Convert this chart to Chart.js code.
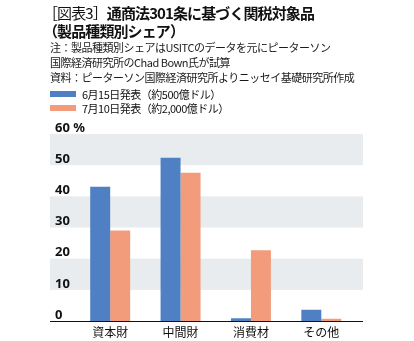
<!DOCTYPE html>
<html lang="ja">
<head>
<meta charset="utf-8">
<script src="https://cdn.jsdelivr.net/npm/chart.js@4/dist/chart.umd.min.js"></script>
<style>
  html, body { margin: 0; padding: 0; background: #fff; }
  #wrap { position: relative; width: 414px; height: 341px; overflow: hidden;
          font-family: "Noto Sans CJK JP", "Noto Sans", sans-serif; color: #111; }
  #chart { position: absolute; left: 0; top: 0; }
  .t { position: absolute; white-space: nowrap; }
  .title { font-size: 15px; line-height: 18px; font-weight: 700; letter-spacing: -0.9px; }
  .title .tag { font-weight: 400; }
  .note { font-size: 11px; line-height: 14px; letter-spacing: -0.5px; color: #1a1a1a; }
  .leg { font-size: 11px; line-height: 14px; letter-spacing: -0.5px; color: #111; }
  .sw { position: absolute; width: 26px; height: 6px; }
</style>
</head>
<body>
<div id="wrap">
  <canvas id="chart" width="414" height="341"></canvas>
  <div class="t title" style="left:43px; top:4px;"><span class="tag">［図表3］</span>通商法301条に基づく関税対象品</div>
  <div class="t title" style="left:43px; top:22px;">（製品種類別シェア）</div>
  <div class="t note" style="left:50px; top:40px;">注：製品種類別シェアはUSITCのデータを元にピーターソン</div>
  <div class="t note" style="left:50px; top:55px;">国際経済研究所のChad Bown氏が試算</div>
  <div class="t note" style="left:50px; top:70px;">資料：ピーターソン国際経済研究所よりニッセイ基礎研究所作成</div>
  <div id="legend"></div>
</div>
<script>
// Product categories and shares (%) of the tariff lists
const categories = ["資本財", "中間財", "消費材", "その他"];
const seriesNames = ["6月15日発表（約500億ドル）", "7月10日発表（約2,000億ドル）"];
const june15Share = [43.1, 52.4, 0.9, 3.6];
const july10Share = [29.0, 47.6, 22.7, 0.7];
const yTicks = [0, 10, 20, 30, 40, 50, 60];
const yUnit = "%";

const BLUE = "#4f80c4";
const ORANGE = "#f29c7b";
const BAND = "#e9ecef";
const PLOT_LEFT = 50, PLOT_RIGHT = 363;

// Alternating horizontal bands behind the bars, plus the black baseline
const bandsPlugin = {
  id: "bands",
  beforeDraw(chart) {
    const { ctx, scales: { y } } = chart;
    ctx.save();
    ctx.fillStyle = BAND;
    for (let i = yTicks.length - 1; i > 0; i -= 2) {
      const top = y.getPixelForValue(yTicks[i]);
      const bottom = y.getPixelForValue(yTicks[i - 1]);
      ctx.fillRect(PLOT_LEFT, top, PLOT_RIGHT - PLOT_LEFT, bottom - top);
    }
    ctx.restore();
  },
  afterDatasetsDraw(chart) {
    const { ctx, scales: { y } } = chart;
    const y0 = Math.round(y.getPixelForValue(0)) + 0.5;
    ctx.save();
    ctx.strokeStyle = "#111";
    ctx.lineWidth = 1.2;
    ctx.beginPath();
    ctx.moveTo(PLOT_LEFT, y0);
    ctx.lineTo(PLOT_RIGHT, y0);
    ctx.stroke();
    ctx.restore();
  }
};

const chart = new Chart(document.getElementById("chart"), {
  type: "bar",
  data: {
    labels: categories,
    datasets: [
      { label: seriesNames[0], data: june15Share, backgroundColor: BLUE },
      { label: seriesNames[1], data: july10Share, backgroundColor: ORANGE }
    ]
  },
  options: {
    responsive: false,
    animation: false,
    devicePixelRatio: 1,
    layout: { padding: { left: 54, right: 57.5, top: 134, bottom: 0 } },
    datasets: { bar: { barPercentage: 1.0, categoryPercentage: 0.568 } },
    plugins: { legend: { display: false }, tooltip: { enabled: false } },
    scales: {
      x: {
        grid: { display: false, drawTicks: false },
        border: { display: false },
        ticks: {
          color: "#111",
          padding: 4,
          font: { family: "'Noto Sans CJK JP'", size: 12 }
        },
        afterFit(scale) { scale.height = 20; }
      },
      y: {
        min: yTicks[0],
        max: yTicks[yTicks.length - 1],
        grid: { display: false, drawTicks: false },
        border: { display: false },
        afterBuildTicks(scale) { scale.ticks = yTicks.map(v => ({ value: v })); },
        afterFit(scale) { scale.width = 21; },
        ticks: {
          color: "#111",
          mirror: true,
          padding: -20,
          labelOffset: -6,
          font: { family: "'Noto Sans'", size: 13, weight: "bold" },
          callback: v => (v === yTicks[yTicks.length - 1] ? v + " " + yUnit : String(v))
        }
      }
    }
  },
  plugins: [bandsPlugin]
});

// Legend rows built from the chart's datasets
const legend = document.getElementById("legend");
chart.data.datasets.forEach((ds, i) => {
  const cy = 93.5 + i * 14.5;
  const sw = document.createElement("div");
  sw.className = "sw";
  sw.style.left = "50px";
  sw.style.top = (cy - 3) + "px";
  sw.style.background = ds.backgroundColor;
  legend.appendChild(sw);
  const tx = document.createElement("div");
  tx.className = "t leg";
  tx.style.left = "82px";
  tx.style.top = (cy - 7) + "px";
  tx.textContent = ds.label;
  legend.appendChild(tx);
});
</script>
</body>
</html>
